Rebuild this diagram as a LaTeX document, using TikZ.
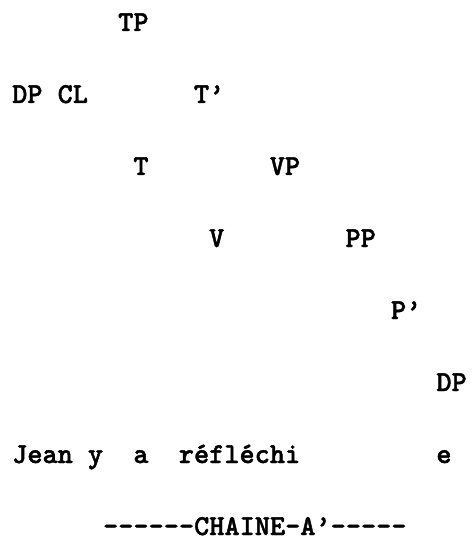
\documentclass[tikz,border=0pt]{standalone}
\usepackage{fontspec}
\newfontfamily\treefont{Latin Modern Mono Light}[BoldFeatures={FakeBold=1.5}]
\usepackage{tikz}

\begin{document}
\begin{tikzpicture}[
  x=15.15pt,y=-72pt,
  lbl/.style={anchor=base west,inner sep=0pt,font=\treefont\bfseries\fontsize{28.9}{30}\selectfont}]
\useasboundingbox (-12pt,31pt) rectangle (460pt,-509pt);
\node[lbl] (tp) at (7,0) {TP};
\node[lbl] (dp) at (0,1) {DP};
\node[lbl] (cl) at (3,1) {CL};
\node[lbl] (tbar) at (12,1) {T’};
\node[lbl] (t) at (8,2) {T};
\node[lbl] (vp) at (17,2) {VP};
\node[lbl] (v) at (13,3) {V};
\node[lbl] (pp) at (22,3) {PP};
\node[lbl] (pbar) at (25,4) {P’};
\node[lbl] (dpobj) at (28,5) {DP};
\node[lbl] (jean) at (0,6) {Jean};
\node[lbl] (y) at (5,6) {y};
\node[lbl] (a) at (8,6) {a};
\node[lbl] (reflechi) at (11,6) {réfléchi};
\node[lbl] (e) at (28,6) {e};
\node[lbl] (chaine) at (6,7) {------CHAINE-A’-----};
\end{tikzpicture}
\end{document}
